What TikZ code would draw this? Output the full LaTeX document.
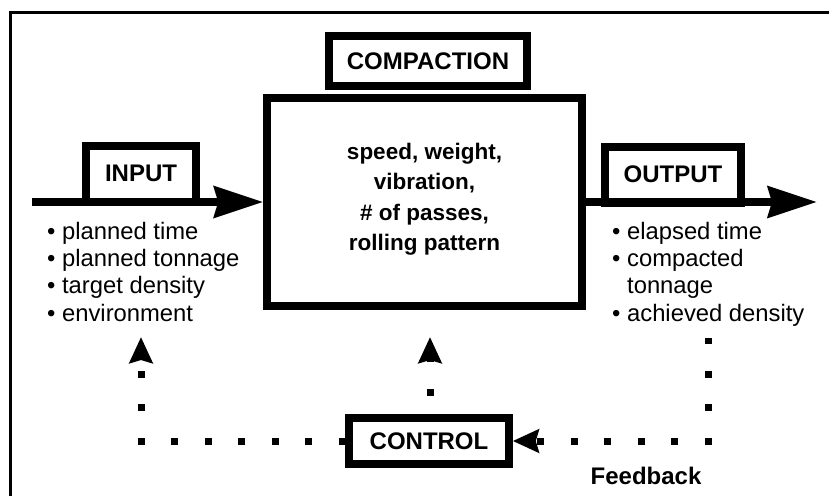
\documentclass[tikz,border=0pt]{standalone}
\usepackage{fontspec}
\setmainfont{Liberation Sans}
\usetikzlibrary{arrows.meta,calc}
\begin{document}
\begin{tikzpicture}[x=1pt,y=-1pt,
  boxline/.style={draw=black, line width=7.5pt},
  labbox/.style={boxline, fill=white, inner sep=0pt, font=\fontsize{24}{28}\selectfont\bfseries},
  bigarrow/.style={line width=8pt, -{Stealth[length=49pt,width=31pt,inset=4pt]}},
  dots/.style={line width=7pt, dash pattern=on 7pt off 26.5pt},
  uphead/.style={-{Stealth[length=26pt,width=23pt,inset=3pt]}},
  listtext/.style={anchor=base west, inner sep=0pt, font=\fontsize{23.8}{27}\selectfont},
  boldtext/.style={inner sep=0pt, font=\fontsize{22.5}{30.5}\selectfont\bfseries},
]
\useasboundingbox (0,0) rectangle (829,495);
\clip (0,0) rectangle (829,495);

% outer frame (runs off the right and bottom edges)
\draw[line width=3pt] (840,12.5) -- (10.5,12.5) -- (10.5,505);

% central process box and its title
\node[boxline, minimum width=315pt, minimum height=208pt, inner sep=0pt] (main) at (424.5,202) {};
\node[boldtext, align=center] (maintext) at ($(main.center)+(0,-3)$)
  {speed, weight,\\ vibration,\\ \# of passes,\\ rolling pattern};
\node[labbox, minimum width=198pt, minimum height=50pt] (comp) at (428,61) {COMPACTION};

% input and output labels sitting on the flow arrows
\node[labbox, minimum width=110pt, minimum height=56pt] (inbox) at (141,174) {\raisebox{2pt}{INPUT}};
\node[labbox, minimum width=136pt, minimum height=56pt] (outbox) at (673,175) {\raisebox{2pt}{OUTPUT}};

% flow arrows
\coordinate (inStart) at (32,202);
\coordinate (outEnd) at (817,202);
\draw[bigarrow] (inStart) -- (main.west);
\draw[bigarrow] (main.east) -- (outEnd);

% input list
\node[listtext] (in1) at (47,239) {\textbullet\ planned time};
\node[listtext] (in2) at (47,266.3) {\textbullet\ planned tonnage};
\node[listtext] (in3) at (47,293.6) {\textbullet\ target density};
\node[listtext] (in4) at (47,321) {\textbullet\ environment};

% output list
\node[listtext] (out1) at (612,239) {\textbullet\ elapsed time};
\node[listtext] (out2) at (612,266.3) {\textbullet\ compacted};
\node[listtext] (out3) at (612,293.6) {\phantom{\textbullet\ }tonnage};
\node[listtext] (out4) at (612,321) {\textbullet\ achieved density};

% control box and feedback loop
\node[labbox, minimum width=160pt, minimum height=46pt] (ctrl) at (429,441) {CONTROL};

\coordinate (tipL) at (141,337);
\coordinate (cornerL) at (141,441);
\coordinate (tipC) at (430,337);
\coordinate (fbTop) at (708,338);
\coordinate (fbCorner) at (708,441);

\draw[dots, dash phase=1pt, uphead] (fbTop) -- (fbCorner) -- (ctrl.east);
\draw[dots, dash phase=0.25pt, uphead] (ctrl.west) -- (cornerL) -- (tipL);
\draw[dots, dash phase=14.75pt, uphead] (ctrl.north -| tipC) -- (tipC);

\node[boldtext, font=\fontsize{24}{28}\selectfont\bfseries] (fb) at (646,476) {Feedback};
\end{tikzpicture}
\end{document}
